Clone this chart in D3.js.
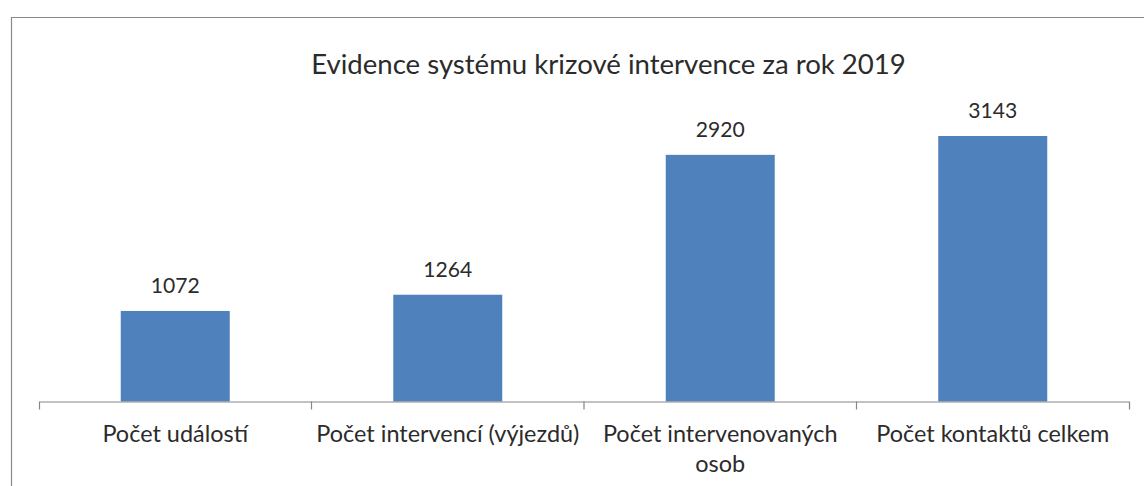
<!DOCTYPE html>
<html><head><meta charset="utf-8">
<script src="https://cdn.jsdelivr.net/npm/d3@7"></script>
<style>
html,body{margin:0;padding:0;background:#fff;}
svg{display:block;}
text{font-family:Lato,"Open Sans",sans-serif;fill:#2b2b2b;}
</style></head>
<body>
<svg id="chart" width="1144" height="486"></svg>
<script>
const title = "Evidence systému krizové intervence za rok 2019";
const categories = ["Počet událostí", "Počet intervencí (výjezdů)", "Počet intervenovaných osob", "Počet kontaktů celkem"];
const values = [1072, 1264, 2920, 3143];

const svg = d3.select("#chart");
const W = 1144, H = 486;

// frame
svg.append("path")
  .attr("d", "M11.5," + (H + 2) + "V17.5H" + (W + 2))
  .attr("fill", "none").attr("stroke", "#8a8a8a").attr("stroke-width", 1.2);

const x = d3.scaleBand().domain(categories).range([39, 1129]).padding(0);
const y = d3.scaleLinear().domain([0, 3500]).range([401.5, 401.5 - 3500 * 0.08447]);

// fit a font size so the reference text width is matched
function fitSize(str, target, base) {
  const t = svg.append("text").attr("font-size", base).text(str);
  const w = t.node().getComputedTextLength();
  t.remove();
  return base * target / w;
}
const titleSize = fitSize(title, 595, 28);
const labelSize = fitSize(categories[1], 263, 22);
const valueSize = fitSize("2920", 49, 22);

// bars
const bw = x.bandwidth() * 0.4;
svg.append("g").selectAll("rect").data(categories).join("rect")
  .attr("x", d => x(d) + (x.bandwidth() - bw) / 2)
  .attr("width", bw)
  .attr("y", (d, i) => y(values[i]))
  .attr("height", (d, i) => y(0) - y(values[i]))
  .attr("fill", "#4f81bd");

// value labels
svg.append("g").selectAll("text").data(categories).join("text")
  .attr("x", d => x(d) + x.bandwidth() / 2)
  .attr("y", (d, i) => y(values[i]) - 18)
  .attr("text-anchor", "middle")
  .attr("font-size", valueSize)
  .text((d, i) => values[i]);

// axis
const axis = d3.axisBottom(x).tickSize(0).tickSizeOuter(8).tickFormat("");
const ag = svg.append("g").attr("transform", "translate(0," + y(0) + ")").call(axis);
ag.select(".domain").attr("stroke", "#868686").attr("stroke-width", 1.2);
ag.selectAll(".tick").remove();
// inner category boundary ticks
svg.append("g").selectAll("line").data(categories.slice(1)).join("line")
  .attr("x1", d => x(d)).attr("x2", d => x(d))
  .attr("y1", y(0)).attr("y2", y(0) + 8)
  .attr("stroke", "#868686").attr("stroke-width", 1.2);

// category labels with wrapping
const maxW = x.bandwidth() - 4;
const lg = svg.append("g");
categories.forEach(c => {
  const t = lg.append("text")
    .attr("x", x(c) + x.bandwidth() / 2)
    .attr("y", 442)
    .attr("text-anchor", "middle")
    .attr("font-size", labelSize);
  const words = c.split(" ");
  let line = [], ts = t.append("tspan").attr("x", x(c) + x.bandwidth() / 2), lineNo = 0;
  words.forEach(w => {
    line.push(w);
    ts.text(line.join(" "));
    if (ts.node().getComputedTextLength() > maxW && line.length > 1) {
      line.pop();
      ts.text(line.join(" "));
      line = [w];
      lineNo++;
      ts = t.append("tspan").attr("x", x(c) + x.bandwidth() / 2).attr("dy", 30).text(w);
    }
  });
});

// title
svg.append("text")
  .attr("x", 608.5).attr("y", 74)
  .attr("text-anchor", "middle")
  .attr("font-size", titleSize)
  .text(title);
</script>
</body></html>
